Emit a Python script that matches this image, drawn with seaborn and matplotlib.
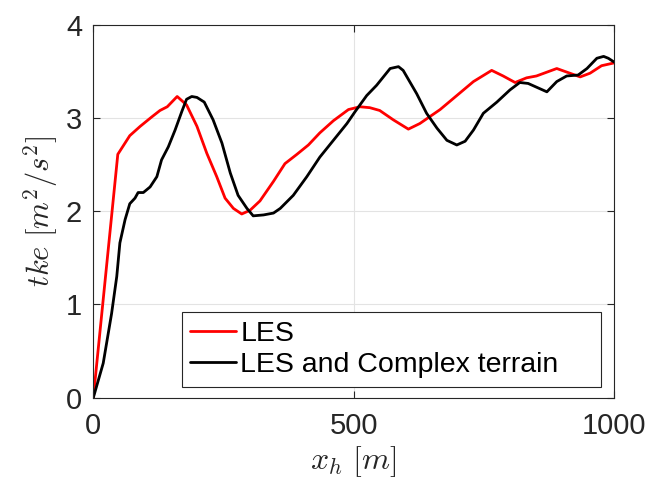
import numpy as np
import pandas as pd
import matplotlib
matplotlib.use("Agg")
import matplotlib.pyplot as plt
import seaborn as sns

# Turbulent kinetic energy along the horizontal coordinate
les_x = [0, 47, 70, 90, 112, 128, 142, 161, 179, 199, 218, 237, 253, 269, 285,
         301, 320, 346, 368, 391, 413, 435, 461, 490, 512, 531, 550, 576, 605,
         627, 666, 698, 730, 765, 787, 810, 832, 851, 890, 915, 935, 954, 976, 1000]
les_tke = [0.0, 2.61, 2.81, 2.91, 3.01, 3.08, 3.12, 3.23, 3.14, 2.91, 2.62, 2.37,
           2.14, 2.03, 1.97, 2.01, 2.11, 2.32, 2.51, 2.61, 2.71, 2.84, 2.97, 3.09,
           3.12, 3.11, 3.08, 2.98, 2.88, 2.94, 3.09, 3.24, 3.39, 3.51, 3.45, 3.38,
           3.43, 3.45, 3.53, 3.48, 3.44, 3.48, 3.56, 3.59]

ct_x = [0, 19, 35, 45, 51, 61, 70, 80, 86, 96, 109, 122, 131, 144, 157, 170, 179,
        189, 199, 213, 230, 247, 263, 278, 295, 307, 327, 346, 359, 384, 410, 435,
        461, 487, 503, 525, 544, 570, 586, 595, 621, 640, 660, 679, 698, 714, 730,
        749, 775, 800, 819, 835, 851, 871, 890, 909, 931, 948, 967, 980, 989, 1000]
ct_tke = [0.0, 0.37, 0.90, 1.30, 1.66, 1.91, 2.08, 2.14, 2.20, 2.20, 2.26, 2.37,
          2.55, 2.69, 2.87, 3.07, 3.20, 3.23, 3.22, 3.17, 2.98, 2.73, 2.41, 2.17,
          2.03, 1.95, 1.96, 1.98, 2.03, 2.17, 2.37, 2.58, 2.76, 2.94, 3.07, 3.24,
          3.35, 3.53, 3.55, 3.51, 3.26, 3.05, 2.89, 2.76, 2.71, 2.75, 2.87, 3.05,
          3.17, 3.30, 3.38, 3.37, 3.33, 3.28, 3.39, 3.45, 3.46, 3.53, 3.64, 3.66,
          3.64, 3.60]

series_names = ["LES", "LES and Complex terrain"]
colors = ["#ff0000", "#000000"]
x_ticks = [0, 500, 1000]
y_ticks = [0, 1, 2, 3, 4]

df = pd.concat([
    pd.DataFrame({"x": les_x, "tke": les_tke, "case": series_names[0]}),
    pd.DataFrame({"x": ct_x, "tke": ct_tke, "case": series_names[1]}),
], ignore_index=True)

sns.set_style("white")
plt.rcParams["font.family"] = ["Liberation Sans", "DejaVu Sans"]
plt.rcParams["mathtext.fontset"] = "cm"

fig = plt.figure(figsize=(6.45, 4.86), dpi=100)
ax = fig.add_axes([0.1447, 0.1817, 0.8073, 0.7675])

sns.lineplot(data=df, x="x", y="tke", hue="case", palette=colors,
             hue_order=series_names, linewidth=2.0, sort=False,
             estimator=None, ax=ax)

ax.set_xlim(0, 1000)
ax.set_ylim(0, 4)
ax.set_xticks(x_ticks)
ax.set_yticks(y_ticks)
ax.grid(True, color="#e3e3e3", linewidth=0.8)
ax.set_axisbelow(True)
for s in ax.spines.values():
    s.set_color("#262626")
    s.set_linewidth(0.8)
ax.tick_params(direction="in", length=5, width=0.8, color="#262626",
               labelsize=21, labelcolor="#262626", top=True, right=True,
               bottom=True, left=True)
ax.tick_params(axis="x", pad=10)
ax.tick_params(axis="y", pad=8)

ax.set_xlabel(r"$x_h\ [m]$", fontsize=23, color="#262626", labelpad=3)
ax.set_ylabel(r"$tke\ [m^2/s^2]$", fontsize=22, color="#262626", labelpad=4)

leg = ax.legend(loc="lower left", bbox_to_anchor=(0.170, 0.0295, 0.805, 0.2),
                mode="expand", borderaxespad=0, fontsize=20.5, handlelength=1.6,
                handletextpad=0.15, borderpad=0.3, labelspacing=0.18,
                fancybox=False, framealpha=1, edgecolor="#262626")
leg.get_frame().set_linewidth(0.8)
for t in leg.get_texts():
    t.set_color("#000000")

fig.savefig("out.png", dpi=100)
